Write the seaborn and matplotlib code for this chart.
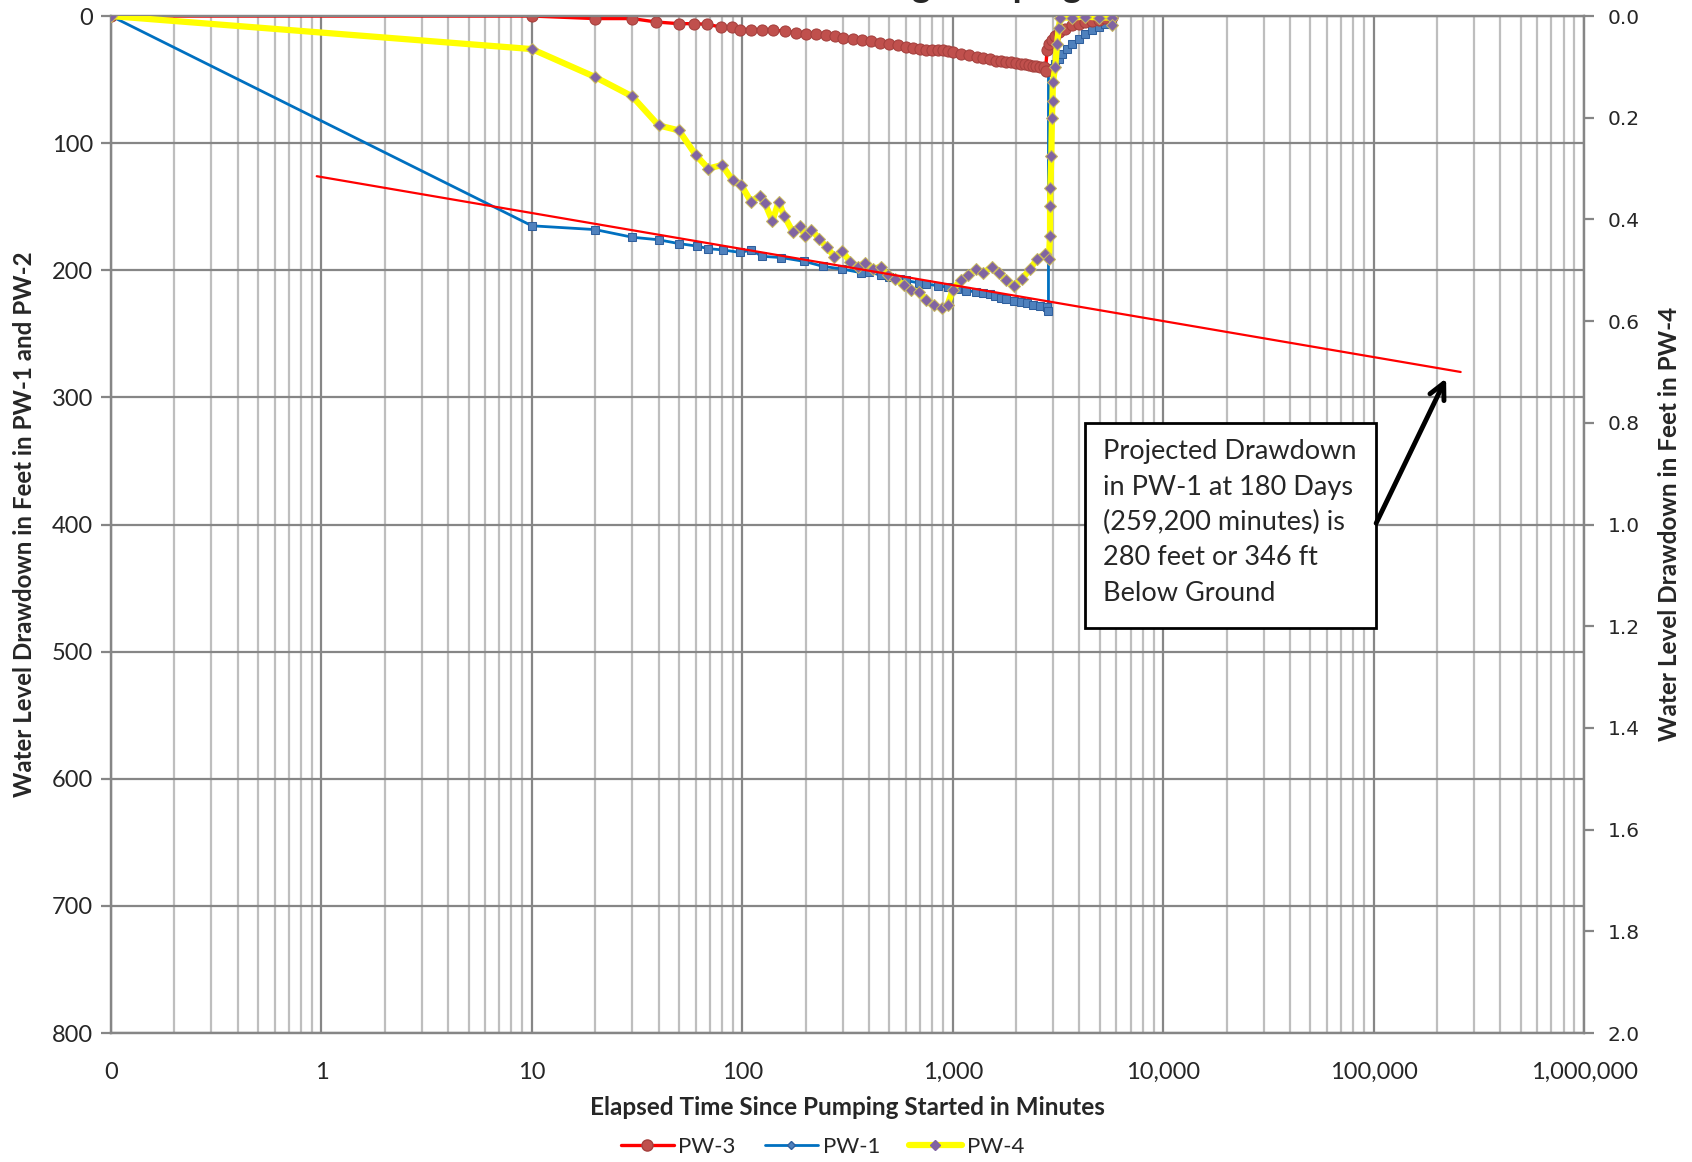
import matplotlib
matplotlib.use('Agg')
import matplotlib.pyplot as plt
import seaborn as sns
from matplotlib.lines import Line2D
from matplotlib.patches import Rectangle
from matplotlib.ticker import FixedLocator, FuncFormatter, LogLocator, NullFormatter

# PW-3 drawdown (ft, left axis) vs elapsed minutes
pw3_minutes = [0.1, 10, 20, 30, 39, 50, 59, 68, 79, 89, 98, 110, 124, 140, 160, 180, 200,
               225, 250, 275, 300, 335, 370, 410, 450, 500, 550, 600, 650, 700, 750, 800,
               850, 900, 950, 1000, 1100, 1200, 1300, 1400, 1500, 1600, 1700, 1800, 1900,
               2000, 2100, 2200, 2300, 2400, 2500, 2600, 2700, 2760, 2806, 2880, 2960, 3070,
               3190, 3400, 3690, 4000, 4270, 4600, 4930, 5300, 5720]
pw3_drawdown = [0, 0, 2, 2, 4.7, 6, 6, 6.5, 8.6, 9, 10.7, 10.7, 10.7, 11, 12, 13, 14,
                14.5, 15, 16, 17, 18, 19, 20, 21, 22, 23, 24, 25, 26, 27, 27,
                27, 27, 27.5, 28, 29.5, 31, 32, 33, 34, 35, 35.5, 36, 36.5,
                37, 37.5, 38, 38.5, 39, 39.5, 40, 40, 43, 27, 22, 19, 15.5,
                12.6, 10, 7.4, 6, 4.7, 3.8, 2.9, 1.8, 0.8]

# PW-1 drawdown (ft, left axis)
pw1_minutes = [0.1, 10, 20, 30, 40, 50, 61, 69, 81, 98, 110, 124, 153, 197, 243, 299, 368,
               400, 454, 500, 560, 600, 690, 750, 850, 950, 1050, 1150, 1290, 1400, 1500,
               1590, 1700, 1800, 1950, 2100, 2250, 2400, 2600, 2790, 2850, 2850, 2960, 3070,
               3190, 3300, 3500, 3690, 4000, 4270, 4600, 4940, 5300, 5720]
pw1_drawdown = [0, 165, 168, 174, 176, 179, 181, 183, 184, 186, 184, 189, 190, 193, 197, 199, 202,
                201, 204, 205, 207, 208, 210, 211, 212, 213.5, 215, 216, 217, 218, 219,
                220, 221.5, 222.5, 224, 225, 226, 227, 228, 229, 232, 44, 41, 38,
                34, 30, 26, 22, 18, 14, 11, 8.7, 6, 3.4]

# PW-4 drawdown (ft, right axis)
pw4_minutes = [0.1, 10, 20, 30, 40, 50, 60, 69, 80, 90, 99, 110, 121, 128, 139, 149, 158, 174,
               189, 198, 213, 232, 252, 274, 299, 325, 353, 384, 417, 454, 492, 534, 584, 634,
               690, 750, 814, 885, 945, 1000, 1090, 1180, 1290, 1400, 1530, 1660, 1800, 1950,
               2130, 2320, 2520, 2740, 2860, 2900, 2900, 2910, 2940, 2960, 2980, 2990, 3070,
               3130, 3190, 3250, 3690, 4270, 4940, 5720, 5720]
pw4_drawdown = [0.0, 0.065, 0.12, 0.158, 0.215, 0.225, 0.273, 0.30, 0.293, 0.323, 0.333, 0.365,
                0.353, 0.368, 0.403, 0.365, 0.393, 0.425, 0.413, 0.433, 0.42, 0.438, 0.455,
                0.473, 0.463, 0.483, 0.493, 0.485, 0.498, 0.493, 0.51, 0.518, 0.528, 0.538,
                0.543, 0.558, 0.568, 0.575, 0.568, 0.538, 0.52, 0.51, 0.498, 0.505, 0.493,
                0.505, 0.52, 0.53, 0.518, 0.498, 0.478, 0.468, 0.478, 0.433, 0.373, 0.338,
                0.275, 0.20, 0.168, 0.13, 0.10, 0.055, 0.023, 0.003, 0.003, 0.001, 0.003,
                0.003, 0.018]

# projected straight-line drawdown in PW-1
proj_minutes = [0.95, 259200]
proj_drawdown = [126, 280]

x_ticks = [0.1, 1, 10, 100, 1000, 10000, 100000, 1000000]
left_ticks = [0, 100, 200, 300, 400, 500, 600, 700, 800]
right_ticks = [0.0, 0.2, 0.4, 0.6, 0.8, 1.0, 1.2, 1.4, 1.6, 1.8, 2.0]

note = ('Projected Drawdown\nin PW-1 at 180 Days\n(259,200 minutes) is\n'
        '280 feet or 346 ft\nBelow Ground')

sns.set_style('white')
plt.rcParams['font.family'] = ['Lato', 'DejaVu Sans']

GRID_DARK = '#868686'
GRID_LIGHT = '#BEBEBE'

fig = plt.figure(figsize=(16.92, 11.62), dpi=100)
ax = fig.add_axes([0.0656, 0.111, 0.8706, 0.8752])
ax2 = ax.twinx()

sns.lineplot(x=pw1_minutes, y=pw1_drawdown, ax=ax, sort=False, estimator=None,
             color='#0070C0', lw=2.0, marker='s', markersize=5.5,
             markerfacecolor='#4F81BD', markeredgecolor='#2F5F9D', zorder=3)
sns.lineplot(x=pw3_minutes, y=pw3_drawdown, ax=ax, sort=False, estimator=None,
             color='#FF0000', lw=2.4, marker='o', markersize=8,
             markerfacecolor='#C0504D', markeredgecolor='#A5403D', zorder=4)
sns.lineplot(x=pw4_minutes, y=pw4_drawdown, ax=ax2, sort=False, estimator=None,
             color='#FFFF00', lw=4.5, marker='D', markersize=6.5,
             markerfacecolor='#8064A2', markeredgecolor='#C8B860', zorder=3)
ax2.plot(proj_minutes, proj_drawdown, color='#FF0000', lw=1.6, transform=ax.transData, zorder=6)

ax.set_xscale('log')
ax.set_xlim(0.1, 1e6)
ax.set_ylim(800, 0)
ax2.set_ylim(2.0, 0.0)

ax.xaxis.set_major_locator(FixedLocator(x_ticks))
ax.xaxis.set_major_formatter(FuncFormatter(lambda v, p: '0' if v < 1 else f'{int(round(v)):,}'))
ax.xaxis.set_minor_locator(LogLocator(base=10, subs=range(2, 10), numticks=100))
ax.xaxis.set_minor_formatter(NullFormatter())
ax.set_yticks(left_ticks)
ax2.set_yticks(right_ticks)
ax2.yaxis.set_major_formatter(FuncFormatter(lambda v, p: f'{v:.1f}'))

ax.grid(True, which='major', axis='both', color=GRID_DARK, lw=1.6)
ax.grid(True, which='minor', axis='x', color=GRID_LIGHT, lw=1.6)
ax.set_axisbelow(True)

ax.tick_params(axis='x', which='major', length=7, width=1.6, color=GRID_DARK,
               labelsize=17, pad=14)
ax.tick_params(axis='x', which='minor', length=0)
ax.tick_params(axis='y', which='major', length=7, width=1.6, color=GRID_DARK,
               labelsize=17, pad=6)
ax2.tick_params(axis='y', which='major', length=7, width=1.6, color=GRID_DARK, pad=10)
for lab in ax2.get_yticklabels():
    lab.set_fontfamily('DejaVu Sans')
    lab.set_fontsize(14.5)

for a in (ax, ax2):
    for s in a.spines.values():
        s.set_color(GRID_DARK)
        s.set_linewidth(1.6)
    a.set_xlabel('')
    a.set_ylabel('')

fig.text(0.5006, 0.0465, 'Elapsed Time Since Pumping Started in Minutes',
         ha='center', va='center', fontsize=17.5, fontweight='bold')
fig.text(0.0142, 0.549, 'Water Level Drawdown in Feet in PW-1 and PW-2',
         ha='center', va='center', rotation=90, fontsize=17.4, fontweight='bold')
fig.text(0.9865, 0.549, 'Water Level Drawdown in Feet in PW-4',
         ha='center', va='center', rotation=90, fontsize=17.5, fontweight='bold')
# chart title sits above the visible area, only its descenders show
fig.text(0.53, 1.0025, 'Drawdown During Pumping Test', ha='center', va='baseline',
         fontsize=26, fontweight='bold')

# callout box and arrow
ax2.add_patch(Rectangle((0.661, 0.398), 0.198, 0.202, transform=ax.transAxes,
                        facecolor='white', edgecolor='black', lw=2, zorder=7))
ax2.text(0.6735, 0.584, note, transform=ax.transAxes, ha='left', va='top',
         fontsize=19.5, linespacing=1.52, zorder=8)
ax2.annotate('', xy=(221000, 285), xycoords=ax.transData,
             xytext=(102800, 399), textcoords=ax.transData,
             arrowprops=dict(arrowstyle='->', lw=3.5, color='black',
                             mutation_scale=28, shrinkA=0, shrinkB=0), zorder=8)

handles = [
    Line2D([], [], color='#FF0000', lw=2.4, marker='o', markersize=8,
           markerfacecolor='#C0504D', markeredgecolor='#A5403D', label='PW-3'),
    Line2D([], [], color='#0070C0', lw=2.0, marker='D', markersize=4.5,
           markerfacecolor='#4F81BD', markeredgecolor='#2F5F9D', label='PW-1'),
    Line2D([], [], color='#FFFF00', lw=4.5, marker='D', markersize=5,
           markerfacecolor='#8064A2', markeredgecolor='#8064A2', label='PW-4'),
]
fig.legend(handles=handles, loc='center', bbox_to_anchor=(0.486, 0.013), ncol=3,
           frameon=False, fontsize=16, handlelength=2.4, handletextpad=0.2,
           columnspacing=1.3)

fig.savefig('out.png', dpi=100)
plt.close(fig)
